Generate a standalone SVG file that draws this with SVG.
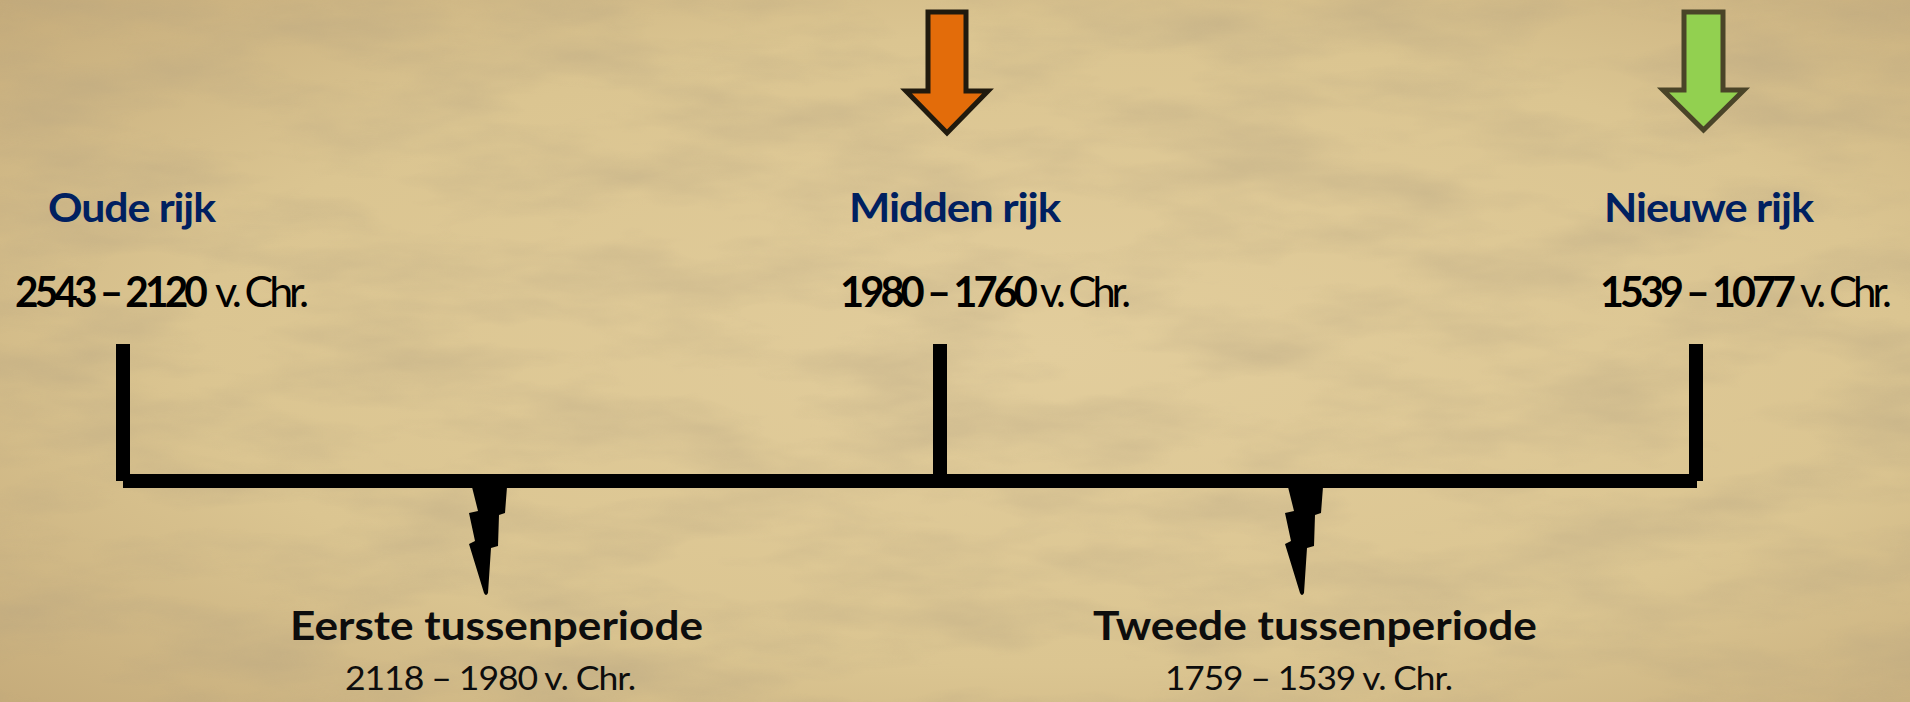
<svg xmlns="http://www.w3.org/2000/svg" width="1910" height="702" viewBox="0 0 1910 702">
  <defs>
    <style>
      .title { font-family: Lato, "Liberation Sans", sans-serif; font-weight: 700; font-size: 41px; fill: #002060; letter-spacing: -1px; }
      .dateb { font-family: Lato, "Liberation Sans", sans-serif; font-weight: 700; font-size: 42px; fill: #000000; letter-spacing: -4px; }
      .dater { font-family: Lato, "Liberation Sans", sans-serif; font-weight: 400; font-size: 42px; fill: #000000; letter-spacing: -4px; }
      .sub { font-family: Lato, "Liberation Sans", sans-serif; font-weight: 700; font-size: 40px; fill: #0d0d0d; }
      .subd { font-family: Lato, "Liberation Sans", sans-serif; font-weight: 400; font-size: 33px; fill: #0d0d0d; letter-spacing: -1px; }
      .bar { fill: #000000; }
    </style>
    <radialGradient id="bg" cx="0.55" cy="0.5" r="0.75">
      <stop offset="0" stop-color="#e2cd9c"/>
      <stop offset="0.6" stop-color="#dbc591"/>
      <stop offset="1" stop-color="#c5ab7a"/>
    </radialGradient>
    <filter id="tex" x="0" y="0" width="100%" height="100%">
      <feTurbulence type="fractalNoise" baseFrequency="0.006 0.02" numOctaves="4" seed="7"/>
      <feColorMatrix type="matrix" values="0 0 0 0 0.45  0 0 0 0 0.36  0 0 0 0 0.22  1.3 0 0 0 -0.5"/>
    </filter>
    <path id="bolt" d="M472,487 L478,511 L469,513 L475,541 L469,544 L484,593 Q486,597 488,593 L491,548 L498,546 L499,515 L505,513 L507,487 Z"/>
  </defs>

  <rect x="0" y="0" width="1910" height="702" fill="url(#bg)"/>
  <rect x="0" y="0" width="1910" height="702" filter="url(#tex)" opacity="0.6"/>

  <g id="connectors">
    <rect class="bar" x="116" y="344" width="14" height="137"/>
    <rect class="bar" x="933" y="344" width="14" height="132"/>
    <rect class="bar" x="1689" y="344" width="14" height="137"/>
    <rect class="bar" x="123" y="474" width="1574" height="14"/>
    <use href="#bolt" class="bar"/>
    <use href="#bolt" class="bar" transform="translate(816,0)"/>
  </g>

  <g id="arrow-midden">
    <path d="M928,12 L966,12 L966,91 L988,91 L947,133 L906,91 L928,91 Z" fill="#e36c0a" stroke="#201a0e" stroke-width="5" stroke-linejoin="miter"/>
  </g>
  <g id="arrow-nieuwe">
    <path d="M1684,12 L1723,12 L1723,90 L1744,90 L1703.5,130 L1663,90 L1684,90 Z" fill="#92d050" stroke="#4a4428" stroke-width="5" stroke-linejoin="miter"/>
  </g>

  <g id="node-oude">
    <text class="title" x="48" y="222" textLength="167" lengthAdjust="spacingAndGlyphs">Oude rijk</text>
    <text class="dateb" x="15" y="307" textLength="189" lengthAdjust="spacingAndGlyphs">2543 – 2120</text>
    <text class="dater" x="215" y="307" textLength="90" lengthAdjust="spacingAndGlyphs">v. Chr.</text>
  </g>
  <g id="node-midden">
    <text class="title" x="849" y="222" textLength="211" lengthAdjust="spacingAndGlyphs">Midden rijk</text>
    <text class="dateb" x="840" y="307" textLength="194" lengthAdjust="spacingAndGlyphs">1980 – 1760</text>
    <text class="dater" x="1040" y="307" textLength="87" lengthAdjust="spacingAndGlyphs">v. Chr.</text>
  </g>
  <g id="node-nieuwe">
    <text class="title" x="1604" y="222" textLength="209" lengthAdjust="spacingAndGlyphs">Nieuwe rijk</text>
    <text class="dateb" x="1600" y="307" textLength="192" lengthAdjust="spacingAndGlyphs">1539 – 1077</text>
    <text class="dater" x="1800" y="307" textLength="88" lengthAdjust="spacingAndGlyphs">v. Chr.</text>
  </g>
  <g id="node-eerste">
    <text class="sub" x="290" y="640" textLength="413" lengthAdjust="spacingAndGlyphs">Eerste tussenperiode</text>
    <text class="subd" x="345" y="690" textLength="290" lengthAdjust="spacingAndGlyphs">2118 – 1980 v. Chr.</text>
  </g>
  <g id="node-tweede">
    <text class="sub" x="1093" y="640" textLength="444" lengthAdjust="spacingAndGlyphs">Tweede tussenperiode</text>
    <text class="subd" x="1165" y="690" textLength="287" lengthAdjust="spacingAndGlyphs">1759 – 1539 v. Chr.</text>
  </g>
</svg>
